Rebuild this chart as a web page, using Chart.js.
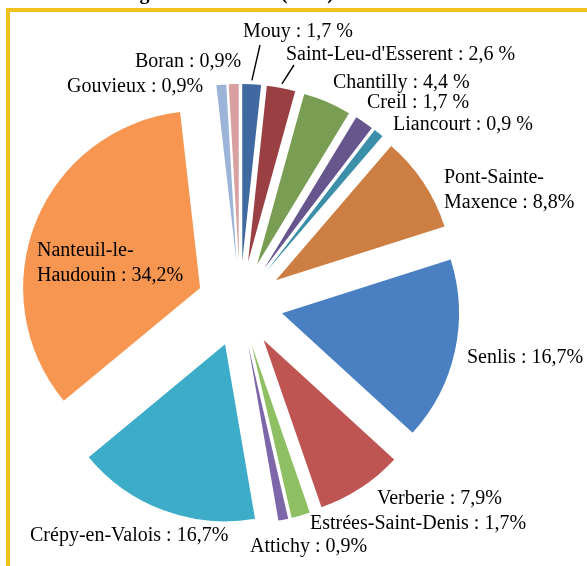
<!DOCTYPE html>
<html lang="fr">
<head>
<meta charset="utf-8">
<title>Communes d'origine</title>
<script src="https://cdn.jsdelivr.net/npm/chart.js@4.4.1/dist/chart.umd.min.js"></script>
<style>
  html, body { margin: 0; padding: 0; background: #fff; }
  canvas { display: block; }
</style>
</head>
<body>
<canvas id="camembert" width="587" height="566"></canvas>
<script>
"use strict";

// communes, clockwise from the top
var communes = [
  'Gouvieux', 'Boran', 'Mouy', "Saint-Leu-d'Esserent", 'Chantilly', 'Creil',
  'Liancourt', 'Pont-Sainte-Maxence', 'Senlis', 'Verberie', 'Estrées-Saint-Denis',
  'Attichy', 'Crépy-en-Valois', 'Nanteuil-le-Haudouin'
];
// share of each commune, in %
var parts = [0.9, 0.9, 1.7, 2.6, 4.4, 1.7, 0.9, 8.8, 16.7, 7.9, 1.7, 0.9, 16.7, 34.2];

var couleurs = [
  '#9DB4D9', '#D9A0A0', '#4169A1', '#9A4042', '#7A9D54', '#67558E', '#3C8FA8',
  '#CD7F43', '#4A80C2', '#BF5553', '#8FBF63', '#7D67AA', '#3DACC8', '#F79651'
];

// label placement: left edge, middle of the first line
var etiquettes = [
  { x: 67,  y: 87 },
  { x: 135, y: 62 },
  { x: 243, y: 32,  espace: true, trait: [260, 45] },
  { x: 286, y: 55,  espace: true, trait: [294, 65] },
  { x: 333, y: 83,  espace: true },
  { x: 367, y: 103, espace: true },
  { x: 393, y: 125, espace: true },
  { x: 444, y: 178, coupe: 12 },
  { x: 467, y: 358 },
  { x: 377, y: 499 },
  { x: 310, y: 524 },
  { x: 250, y: 547 },
  { x: 30,  y: 536 },
  { x: 37,  y: 251, coupe: 12 }
];

var ECLATEMENT = 43;

// yellow frame and the title running off the top
var cadre = {
  id: 'cadre',
  beforeDraw(chart) {
    var c = chart.ctx;
    c.save();
    c.strokeStyle = '#EEC11C';
    c.lineWidth = 4;
    c.strokeRect(8, 10, 800, 800);
    c.fillStyle = '#000';
    c.font = 'bold 20px "Liberation Serif"';
    c.textAlign = 'right';
    c.textBaseline = 'alphabetic';
    c.fillText('Lieu de résidence des élèves du collège Anne-Hébert (2013)', 334, -1.5);
    c.restore();
  }
};

// push every slice out along its bisector
var eclatement = {
  id: 'eclatement',
  afterDatasetUpdate(chart, args) {
    args.meta.data.forEach(function (arc) {
      var mid = (arc.startAngle + arc.endAngle) / 2;
      arc.x += Math.cos(mid) * ECLATEMENT;
      arc.y += Math.sin(mid) * ECLATEMENT;
    });
  }
};

function texte(i) {
  var v = parts[i].toFixed(1).replace('.', ',');
  return communes[i] + ' : ' + v + (etiquettes[i].espace ? ' %' : '%');
}

var libelles = {
  id: 'libelles',
  afterDraw(chart) {
    var c = chart.ctx;
    var arcs = chart.getDatasetMeta(0).data;
    c.save();
    c.fillStyle = '#000';
    c.strokeStyle = '#000';
    c.lineWidth = 1.4;
    c.font = '20px "Liberation Serif"';
    c.textAlign = 'left';
    c.textBaseline = 'middle';
    etiquettes.forEach(function (e, i) {
      var t = texte(i);
      if (e.coupe) {
        c.fillText(t.slice(0, e.coupe), e.x, e.y);
        c.fillText(t.slice(e.coupe), e.x, e.y + 24.5);
      } else {
        c.fillText(t, e.x, e.y);
      }
      if (e.trait) {
        var a = arcs[i];
        var mid = (a.startAngle + a.endAngle) / 2;
        var r = a.outerRadius + 4;
        c.beginPath();
        c.moveTo(e.trait[0], e.trait[1]);
        c.lineTo(a.x + Math.cos(mid) * r, a.y + Math.sin(mid) * r);
        c.stroke();
      }
    });
    c.restore();
  }
};

var ctx = document.getElementById('camembert').getContext('2d');
var camembert = new Chart(ctx, {
  type: 'pie',
  data: {
    labels: communes,
    datasets: [{
      data: parts,
      backgroundColor: couleurs,
      borderWidth: 0
    }]
  },
  options: {
    responsive: false,
    animation: false,
    events: [],
    rotation: -6.5,
    radius: 177,
    layout: { padding: { left: 0, right: 107, top: 42, bottom: 0 } },
    plugins: {
      legend: { display: false },
      tooltip: { enabled: false }
    }
  },
  plugins: [cadre, eclatement, libelles]
});
</script>
</body>
</html>
